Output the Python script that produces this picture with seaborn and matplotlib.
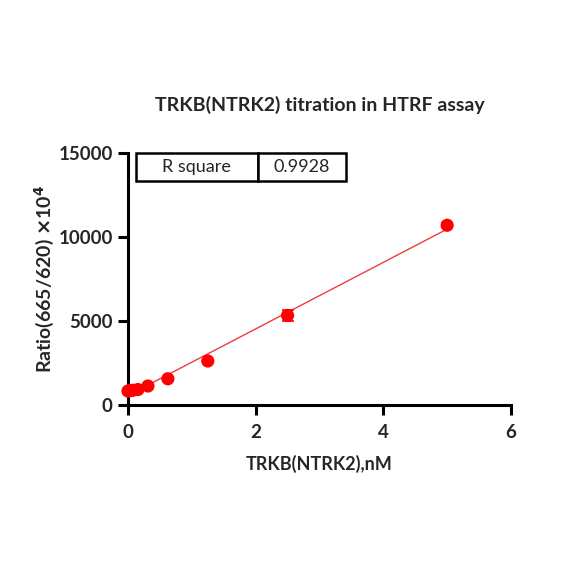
import numpy as np
import pandas as pd
import matplotlib
matplotlib.use("Agg")
import matplotlib.pyplot as plt
import seaborn as sns

# TRKB(NTRK2) concentration, nM (2-fold dilution series)
conc = [0.0, 0.039, 0.078, 0.156, 0.3125, 0.625, 1.25, 2.5, 5.0]
ratio = [830, 860, 880, 920, 1130, 1560, 2620, 5330, 10700]
ratio_sd = [40, 40, 40, 40, 50, 60, 80, 340, 120]
r_square = "0.9928"

sns.set_theme(style="ticks")
plt.rcParams["font.family"] = ["Lato", "DejaVu Sans"]
plt.rcParams["font.weight"] = "bold"

df = pd.DataFrame({"conc": conc, "ratio": ratio, "sd": ratio_sd})

fig = plt.figure(figsize=(5.77, 5.77), dpi=100)
ax = fig.add_axes([0.2218, 0.2981, 0.6638, 0.4367])

# linear fit line
slope, intercept = np.polyfit(df["conc"], df["ratio"], 1)
xs = np.array([df["conc"].min(), df["conc"].max()])
sns.lineplot(x=xs, y=slope * xs + intercept, ax=ax, color="#f03c3c", linewidth=1.0, zorder=2)

ax.errorbar(df["conc"], df["ratio"], yerr=df["sd"], fmt="none", ecolor="red",
            elinewidth=1.2, capsize=4, capthick=1.2, zorder=3)
sns.scatterplot(data=df, x="conc", y="ratio", ax=ax, color="red", s=90,
                edgecolor="none", zorder=4, clip_on=False)

ax.set_xlim(0, 6)
ax.set_ylim(0, 15000)
ax.set_xticks([0, 2, 4, 6])
ax.set_yticks([0, 5000, 10000, 15000])
sns.despine(ax=ax)
for s in ["left", "bottom"]:
    ax.spines[s].set_linewidth(2.2)
    ax.spines[s].set_color("black")
ax.tick_params(axis="both", width=2.2, length=7, labelsize=13.5, color="black", pad=4)
ax.tick_params(axis="x", pad=7)
for lab in ax.get_xticklabels() + ax.get_yticklabels():
    lab.set_fontweight("bold")

ax.set_xlabel("TRKB(NTRK2),nM", fontsize=13, fontweight="bold", labelpad=10)
ax.set_ylabel(r"Ratio(665/620) $\times$10$^{4}$", fontsize=14, fontweight="bold", labelpad=2)
ax.set_title("TRKB(NTRK2) titration in HTRF assay", fontsize=14, fontweight="bold", pad=30)

tbl = ax.table(cellText=[["R square", r_square]], cellLoc="center",
               bbox=[0.021, 0.89, 0.548, 0.11], colWidths=[0.58, 0.42])
tbl.auto_set_font_size(False)
for (r, c), cell in tbl.get_celld().items():
    cell.set_linewidth(1.8)
    cell.set_edgecolor("black")
    cell.get_text().set_fontsize(13)
    cell.get_text().set_fontweight("normal")

fig.savefig("out.png", dpi=100)
